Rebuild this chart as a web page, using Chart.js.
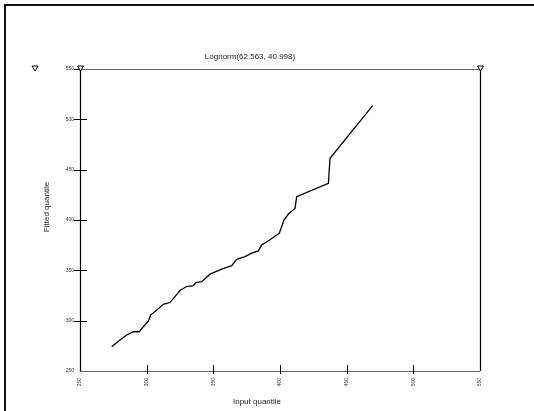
<!DOCTYPE html>
<html>
<head>
<meta charset="utf-8">
<script src="https://cdn.jsdelivr.net/npm/chart.js@4.4.1/dist/chart.umd.min.js"></script>
<style>
  html, body { margin: 0; padding: 0; background: #fff; }
  #wrap { width: 534px; height: 411px; position: relative; }
</style>
</head>
<body>
<div id="wrap"><canvas id="c" width="534" height="411"></canvas></div>
<script>
// Quantile pairs of the fitted lognormal curve
const inputQuantile  = [273.8, 280, 285, 290, 294.5, 297.5, 301.3, 303, 306.3, 312.5, 317.5, 325, 330, 335, 337, 341.3, 347.5, 356.3, 363.8, 367.5, 373.8, 378.8, 383.8, 386.3, 392.5, 399.5, 403, 406.3, 411.3, 412.5, 436.3, 437.5, 469.5];
const fittedQuantile = [274.2, 280.8, 285.8, 289, 289, 294, 299.7, 305.7, 309, 316.3, 318, 330, 333.9, 334.9, 337.8, 338.8, 346.2, 351.1, 354.7, 361, 363.7, 367, 369.3, 375.3, 380.3, 386.9, 399.9, 405.9, 411.5, 423.1, 436.4, 461.3, 513.6];
const axisTicks = [250, 300, 350, 400, 450, 500, 550];
const chartTitle = 'Lognorm(62.563, 40.998)';
const xTitle = 'Input quantile';
const yTitle = 'Fitted quantile';

const FONT = '"Liberation Sans", Arial, sans-serif';
const points = inputQuantile.map((x, i) => ({ x: x, y: fittedQuantile[i] }));

function triangle(ctx, x, y) {
  ctx.beginPath();
  ctx.moveTo(x - 3, y - 3);
  ctx.lineTo(x + 3, y - 3);
  ctx.lineTo(x, y + 2);
  ctx.closePath();
  ctx.fillStyle = '#fff';
  ctx.fill();
  ctx.strokeStyle = '#000';
  ctx.lineWidth = 1;
  ctx.stroke();
}

const frame = {
  id: 'frame',
  beforeDraw(chart) {
    const ctx = chart.ctx;
    ctx.save();
    ctx.fillStyle = '#fff';
    ctx.fillRect(0, 0, chart.width, chart.height);
    ctx.restore();
  },
  afterDraw(chart) {
    const ctx = chart.ctx;
    const a = chart.chartArea;
    const xs = chart.scales.x, ys = chart.scales.y;
    ctx.save();
    // outer page frame
    ctx.strokeStyle = '#111';
    ctx.lineWidth = 2;
    ctx.beginPath();
    ctx.moveTo(5, chart.height);
    ctx.lineTo(5, 5);
    ctx.lineTo(chart.width, 5);
    ctx.stroke();

    // top and bottom axis lines (grey)
    ctx.strokeStyle = '#666';
    ctx.lineWidth = 1.2;
    ctx.beginPath();
    ctx.moveTo(a.left, a.top + 0.5); ctx.lineTo(a.right, a.top + 0.5);
    ctx.moveTo(a.left, a.bottom + 0.5); ctx.lineTo(a.right, a.bottom + 0.5);
    ctx.stroke();

    // left and right axis lines (black)
    ctx.strokeStyle = '#000';
    ctx.lineWidth = 1.2;
    ctx.beginPath();
    ctx.moveTo(a.left + 0.5, a.top); ctx.lineTo(a.left + 0.5, a.bottom);
    ctx.moveTo(a.right + 0.5, a.top); ctx.lineTo(a.right + 0.5, a.bottom);
    ctx.stroke();

    // tick marks
    ctx.lineWidth = 1;
    ctx.beginPath();
    axisTicks.forEach(v => {
      if (v > 250 && v < 550) {
        const py = Math.round(ys.getPixelForValue(v)) + 0.5;
        ctx.moveTo(a.left - 6, py); ctx.lineTo(a.left + 7, py);
        const px = Math.round(xs.getPixelForValue(v)) + 0.5;
        ctx.moveTo(px, a.bottom - 6); ctx.lineTo(px, a.bottom + 3);
      }
    });
    const pTop = Math.round(ys.getPixelForValue(550)) + 0.5;
    ctx.moveTo(a.left - 6, pTop); ctx.lineTo(a.left, pTop);
    ctx.stroke();

    // markers
    triangle(ctx, 35, a.top);
    triangle(ctx, a.left + 0.5, a.top);
    triangle(ctx, a.right + 0.5, a.top);

    // titles
    ctx.fillStyle = '#222';
    ctx.font = '8px ' + FONT;
    ctx.textAlign = 'center';
    ctx.textBaseline = 'middle';
    ctx.fillText(chartTitle, 250, 57);

    ctx.save();
    ctx.beginPath();
    ctx.rect(0, 0, chart.width, 406);
    ctx.clip();
    ctx.textBaseline = 'top';
    ctx.fillText(xTitle, 257, 398);
    ctx.restore();

    ctx.translate(47, 207);
    ctx.rotate(-Math.PI / 2);
    ctx.textBaseline = 'middle';
    ctx.fillText(yTitle, 0, 0);
    ctx.restore();
  }
};

new Chart(document.getElementById('c'), {
  type: 'line',
  data: {
    datasets: [{
      data: points,
      borderColor: '#000',
      borderWidth: 1.3,
      pointRadius: 0,
      tension: 0,
      fill: false
    }]
  },
  options: {
    responsive: false,
    animation: false,
    events: [],
    layout: { padding: { left: 0, top: 69, right: 54, bottom: 0 } },
    plugins: { legend: { display: false }, title: { display: false }, tooltip: { enabled: false } },
    scales: {
      x: {
        type: 'linear',
        min: 250, max: 550,
        afterFit: s => { s.height = 40; },
        afterBuildTicks: s => { s.ticks = axisTicks.map(v => ({ value: v })); },
        grid: { display: false, drawTicks: false },
        border: { display: false },
        ticks: {
          autoSkip: false, minRotation: 90, maxRotation: 90, padding: 7,
          color: '#333', font: { family: FONT, size: 5 }
        }
      },
      y: {
        type: 'linear',
        min: 250, max: 550,
        afterFit: s => { s.width = 80; },
        afterBuildTicks: s => { s.ticks = axisTicks.map(v => ({ value: v })); },
        grid: { display: false, drawTicks: false },
        border: { display: false },
        ticks: {
          autoSkip: false, padding: 6,
          color: '#333', font: { family: FONT, size: 5 }
        }
      }
    }
  },
  plugins: [frame]
});
</script>
</body>
</html>
